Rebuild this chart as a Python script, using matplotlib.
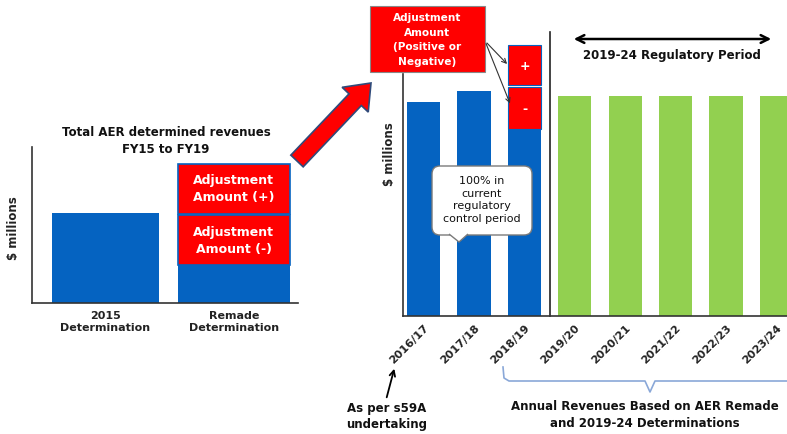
import matplotlib
matplotlib.use("Agg")
import matplotlib.pyplot as plt
from matplotlib.patches import FancyArrow, FancyBboxPatch, Polygon, Rectangle

plt.rcParams['font.family'] = ['DejaVu Sans']

BLUE = '#0563C1'
RED = '#FF0000'
GREEN = '#92D050'

# ---- data ----
left_categories = ['2015\nDetermination', 'Remade\nDetermination']
left_2015 = 90
left_remade_base = 38
left_adj_minus = 50
left_adj_plus = 50

right_hist_years = ['2016/17', '2017/18', '2018/19']
right_hist_values = [214, 225, 187]
right_adj_minus = 42
right_adj_plus = 40
right_future_years = ['2019/20', '2020/21', '2021/22', '2022/23', '2023/24']
right_future_values = [220, 220, 220, 220, 220]

W, H = 787, 435
fig = plt.figure(figsize=(W / 100, H / 100), dpi=100)

def frac(x0, y_top, x1, y_bot):
    return [x0 / W, 1 - y_bot / H, (x1 - x0) / W, (y_bot - y_top) / H]

# ---- left chart ----
axl = fig.add_axes(frac(32, 148, 298, 304))
axl.set_xlim(-0.57, 1.50)
axl.set_ylim(0, 156)
axl.bar([0], [left_2015], width=0.83, color=BLUE)
axl.bar([1], [left_remade_base], width=0.87, color=BLUE)
axl.bar([1], [left_adj_minus], bottom=left_remade_base, width=0.87, color=RED,
        edgecolor=BLUE, linewidth=1.2)
axl.bar([1], [left_adj_plus], bottom=left_remade_base + left_adj_minus + 1.5, width=0.87,
        color=RED, edgecolor=BLUE, linewidth=1.2)
axl.text(1, left_remade_base + left_adj_minus / 2, 'Adjustment\nAmount (-)', color='white',
         fontweight='bold', fontsize=9, ha='center', va='center', linespacing=1.4)
axl.text(1, left_remade_base + left_adj_minus + 1.5 + left_adj_plus / 2, 'Adjustment\nAmount (+)',
         color='white', fontweight='bold', fontsize=9, ha='center', va='center', linespacing=1.4)
for s in ['top', 'right']:
    axl.spines[s].set_visible(False)
for s in ['left', 'bottom']:
    axl.spines[s].set_color('#333333')
    axl.spines[s].set_linewidth(1.2)
axl.set_yticks([])
axl.set_xticks([0, 1])
axl.set_xticklabels(left_categories, fontweight='bold', fontsize=8, linespacing=1.3)
axl.tick_params(axis='x', length=0, pad=5, colors='#222222')

# ---- right chart ----
axr = fig.add_axes(frac(403, 45, 787, 317))
axr.set_xlim(-0.41, 7.21)
axr.set_ylim(0, 272)
nh = len(right_hist_years)
xh = list(range(nh))
xf = list(range(nh, nh + len(right_future_years)))
axr.bar(xh, right_hist_values, width=0.66, color=BLUE)
axr.bar([xh[-1]], [right_adj_minus], bottom=right_hist_values[-1], width=0.66, color=RED,
        edgecolor=BLUE, linewidth=0.8)
plus_bottom = right_hist_values[-1] + right_adj_minus + 2
axr.bar([xh[-1]], [right_adj_plus], bottom=plus_bottom, width=0.66, color=RED,
        edgecolor=BLUE, linewidth=0.8)
axr.text(xh[-1], right_hist_values[-1] + right_adj_minus / 2, '-', color='white', fontweight='bold',
         fontsize=9, ha='center', va='center')
axr.text(xh[-1], plus_bottom + right_adj_plus / 2, '+', color='white', fontweight='bold',
         fontsize=9, ha='center', va='center')
axr.bar(xf, right_future_values, width=0.66, color=GREEN)
for s in ['top', 'right']:
    axr.spines[s].set_visible(False)
for s in ['left', 'bottom']:
    axr.spines[s].set_color('#333333')
    axr.spines[s].set_linewidth(1.2)
axr.spines['left'].set_bounds(0, 242)
axr.set_yticks([])
axr.set_xticks([])
for i, lbl in enumerate(right_hist_years + right_future_years):
    axr.annotate(lbl, xy=(i, 0), xytext=(2.5, -7), textcoords='offset points', rotation=45,
                 ha='right', va='center', rotation_mode='anchor', fontweight='bold',
                 fontsize=8, color='#222222', annotation_clip=False)
axr.plot([nh - 0.5, nh - 0.5], [0, 284], color='#222222', lw=1.2, clip_on=False)

# ---- overlay (pixel coordinates) ----
ov = fig.add_axes([0, 0, 1, 1], zorder=10)
ov.set_xlim(0, W)
ov.set_ylim(H, 0)
ov.axis('off')

ov.text(166, 141, 'Total AER determined revenues\nFY15 to FY19', fontweight='bold',
        fontsize=8.5, ha='center', va='center', linespacing=1.4, color='#111111')

ov.text(13, 228, '$ millions', rotation=90, ha='center', va='center', fontweight='bold',
        fontsize=8.5, color='#222222')
ov.text(390, 154, '$ millions', rotation=90, ha='center', va='center', fontweight='bold',
        fontsize=8.5, color='#222222')

# big red arrow
ov.add_patch(FancyArrow(297, 162, 74, -78, width=17, head_width=36, head_length=23,
                        length_includes_head=True, fc=RED, ec='#2F4A7A', lw=1.2))

# top adjustment box
ov.add_patch(Rectangle((370, 7), 115, 66, fc=RED, ec='#888888', lw=0.8))
ov.text(427.5, 40, 'Adjustment\nAmount\n(Positive or\nNegative)', color='white',
        fontweight='bold', fontsize=7.6, ha='center', va='center', linespacing=1.55)
for tgt in [(509, 67), (511, 107)]:
    ov.annotate('', xy=tgt, xytext=(485, 42),
                arrowprops=dict(arrowstyle='->', color='#333333', lw=0.8, mutation_scale=8))

# regulatory period arrow
ov.annotate('', xy=(774, 40), xytext=(571, 40),
            arrowprops=dict(arrowstyle='<->', color='black', lw=1.8, mutation_scale=14))
ov.text(672, 55, '2019-24 Regulatory Period', fontweight='bold', fontsize=8.5,
        ha='center', va='center', color='#111111')

# callout
ov.add_patch(FancyBboxPatch((436, 171), 92, 61, boxstyle='round,pad=4,rounding_size=8',
                            fc='white', ec='#7a7a7a', lw=1.0))
ov.add_patch(Polygon([(449, 235), (459, 243), (468, 235)], closed=False, fc='white',
                     ec='#7a7a7a', lw=1.0))
ov.text(482, 200, '100% in\ncurrent\nregulatory\ncontrol period', fontsize=8,
        ha='center', va='center', linespacing=1.3, color='#111111')

# bracket
ov.plot([503, 504, 509, 645, 650, 655, W], [368, 379, 382, 382, 393, 382, 382],
        color='#8AA8D8', lw=1.2)
ov.text(645, 415, 'Annual Revenues Based on AER Remade\nand 2019-24 Determinations',
        fontweight='bold', fontsize=8.5, ha='center', va='center', linespacing=1.45,
        color='#111111')

# s59A note
ov.annotate('', xy=(395, 367), xytext=(386, 401),
            arrowprops=dict(arrowstyle='->', color='black', lw=1.3, mutation_scale=10))
ov.text(387, 417, 'As per s59A\nundertaking', fontweight='bold', fontsize=8.5,
        ha='center', va='center', linespacing=1.3, color='#111111')

fig.savefig('out.png', dpi=100)
